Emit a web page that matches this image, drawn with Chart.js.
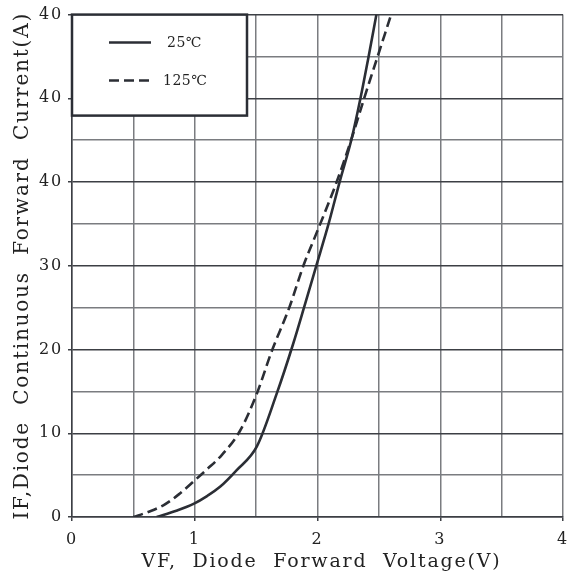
<!DOCTYPE html>
<html>
<head>
<meta charset="utf-8">
<script src="https://cdn.jsdelivr.net/npm/chart.js@4/dist/chart.umd.min.js"></script>
<style>
  html, body { margin: 0; padding: 0; background: #fff; }
  #wrap { width: 570px; height: 577px; }
</style>
</head>
<body>
<div id="wrap"><canvas id="myChart" width="570" height="577"></canvas></div>
<script>
// series (VF in volts, IF in amps)
const seriesNames = ['25℃', '125℃'];
const vf25 = [0.69, 0.85, 0.994, 1.1, 1.206, 1.342, 1.505, 1.667, 1.8, 1.89, 1.99, 2.09, 2.18, 2.28, 2.35, 2.41, 2.48];
const if25 = [0, 0.75, 1.6, 2.5, 3.6, 5.6, 8.4, 14.7, 20.6, 25, 30, 35, 40, 45.3, 50, 54.5, 60];
const vf125 = [0.5, 0.62, 0.744, 0.87, 0.994, 1.1, 1.22, 1.369, 1.505, 1.627, 1.77, 1.885, 2.0, 2.156, 2.28, 2.38, 2.49, 2.6];
const if125 = [0, 0.6, 1.4, 2.7, 4.3, 5.7, 7.4, 10.3, 14.7, 19.8, 25, 30, 34.2, 40, 45.3, 50, 55, 60];

// tick labels as printed on the original (top two are printed "40")
const xTickLabels = ['0', '1', '2', '3', '4'];
const yTickLabels = ['0', '10', '20', '30', '40', '40', '40'];

const ink = '#2b2e35';
const gridDark = '#3c3f44';
const gridGrey = '#7a7c80';
const serif = '"DejaVu Serif", serif';

function toPoints(xs, ys) {
    return xs.map((x, i) => ({ x: x, y: ys[i] }));
}

// the original lettering is a wide typewriter serif, widen ours a bit
const spacing = {
    id: 'spacing',
    beforeUpdate(chart) { chart.ctx.letterSpacing = '1.8px'; },
    beforeDraw(chart) { chart.ctx.letterSpacing = '1.8px'; }
};

// legend box drawn inside the plot, top left
const legendBox = {
    id: 'legendBox',
    afterDraw(chart) {
        const { ctx, chartArea } = chart;
        const x0 = chartArea.left, y0 = chartArea.top;
        ctx.save();
        ctx.fillStyle = '#fff';
        ctx.fillRect(x0, y0, 175, 101);
        ctx.strokeStyle = ink;
        ctx.lineWidth = 2.5;
        ctx.strokeRect(x0, y0, 175, 101);

        chart.data.datasets.forEach((ds, i) => {
            const ly = y0 + 28 + i * 38;
            ctx.beginPath();
            ctx.setLineDash(ds.borderDash || []);
            ctx.lineWidth = 2.5;
            ctx.strokeStyle = ds.borderColor;
            ctx.moveTo(x0 + 37, ly);
            ctx.lineTo(x0 + 79, ly);
            ctx.stroke();
            ctx.setLineDash([]);
            ctx.fillStyle = '#222';
            ctx.font = '14px ' + serif;
            ctx.letterSpacing = '0.5px';
            ctx.textBaseline = 'middle';
            ctx.textAlign = 'left';
            ctx.fillText(ds.label, x0 + (i === 0 ? 95 : 91), ly + 1);
        });
        ctx.restore();
    }
};

const ctx = document.getElementById('myChart').getContext('2d');
const myChart = new Chart(ctx, {
    type: 'scatter',
    data: {
        datasets: [{
            label: seriesNames[0],
            data: toPoints(vf25, if25),
            showLine: true,
            borderColor: ink,
            borderWidth: 2.6,
            pointRadius: 0,
            cubicInterpolationMode: 'monotone'
        }, {
            label: seriesNames[1],
            data: toPoints(vf125, if125),
            showLine: true,
            borderColor: ink,
            borderWidth: 2.6,
            borderDash: [10, 5],
            pointRadius: 0,
            cubicInterpolationMode: 'monotone'
        }]
    },
    options: {
        responsive: false,
        animation: false,
        layout: { padding: { left: 0, top: 14, right: 7, bottom: 0 } },
        plugins: {
            legend: { display: false },
            tooltip: { enabled: false }
        },
        scales: {
            x: {
                type: 'linear',
                min: 0,
                max: 4,
                afterFit: (scale) => {
                    scale.height = 60;
                    scale.paddingLeft = 0;
                    scale.paddingRight = 7;
                },
                ticks: {
                    stepSize: 0.5,
                    padding: 9,
                    color: '#222',
                    font: { family: serif, size: 16 },
                    maxRotation: 0,
                    autoSkip: false,
                    callback: (v) => Number.isInteger(v) ? xTickLabels[v] : ''
                },
                grid: {
                    color: gridGrey,
                    lineWidth: 1.5,
                    tickLength: 4,
                    tickColor: (c) => Number.isInteger(c.tick.value) ? gridDark : 'transparent'
                },
                border: { color: gridDark, width: 1.5 },
                title: {
                    display: true,
                    text: ' VF,  Diode  Forward  Voltage(V)',
                    color: '#222',
                    font: { family: serif, size: 19 },
                    padding: { top: 0, bottom: 4 }
                }
            },
            y: {
                min: 0,
                max: 60,
                afterFit: (scale) => { scale.width = 72; },
                ticks: {
                    stepSize: 5,
                    padding: 5,
                    color: '#222',
                    font: { family: serif, size: 16 },
                    autoSkip: false,
                    callback: (v) => v % 10 === 0 ? yTickLabels[v / 10] : ''
                },
                grid: {
                    color: (c) => c.tick.value % 10 === 0 ? gridDark : gridGrey,
                    lineWidth: 1.5,
                    tickLength: 4,
                    tickColor: (c) => c.tick.value % 10 === 0 ? gridDark : 'transparent'
                },
                border: { color: gridDark, width: 1.5 },
                title: {
                    display: true,
                    text: 'IF,Diode  Continuous  Forward  Current(A)',
                    color: '#222',
                    font: { family: serif, size: 20 },
                    padding: { top: 11, bottom: 0 }
                }
            }
        }
    },
    plugins: [spacing, legendBox]
});
</script>
</body>
</html>
